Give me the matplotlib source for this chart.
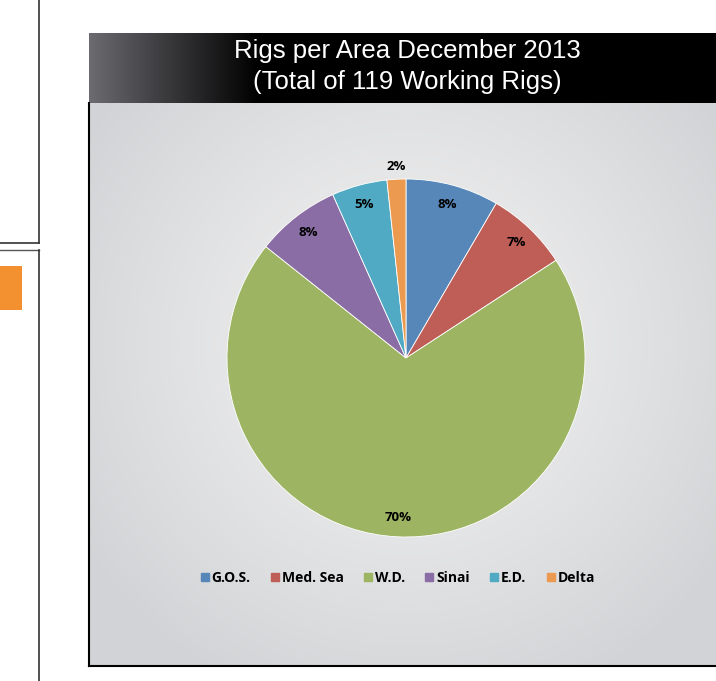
import numpy as np
import matplotlib
matplotlib.use("Agg")
import matplotlib.pyplot as plt
from matplotlib.lines import Line2D
from matplotlib.patches import Rectangle

# data (shares, labels rounded like the original)
areas = ["G.O.S.", "Med. Sea", "W.D.", "Sinai", "E.D.", "Delta"]
shares = [8.4, 7.4, 69.8, 7.6, 5.0, 1.7]
colors = ["#5687B8", "#BF5E57", "#9DB462", "#8A6DA4", "#51AAC4", "#EB9A50"]
title_lines = ["Rigs per Area December 2013", "(Total of 119 Working Rigs)"]

W, H = 716, 681
fig = plt.figure(figsize=(W / 100, H / 100), dpi=100)
fig.patch.set_facecolor("white")

def fx(px):
    return px / W

def fy(py):
    return 1 - py / H

# left page decorations
fig.add_artist(Line2D([fx(39), fx(39)], [fy(0), fy(243)], color="#333333", lw=1.2))
fig.add_artist(Line2D([0, fx(39)], [fy(243), fy(243)], color="#333333", lw=1.2))
fig.add_artist(Line2D([0, fx(39)], [fy(250), fy(250)], color="#555555", lw=1.0))
fig.add_artist(Line2D([fx(39), fx(39)], [fy(250), fy(681)], color="#333333", lw=1.2))
fig.add_artist(Rectangle((0, fy(310)), fx(22), fy(266) - fy(310), color="#F39130", lw=0))

# plot area background with radial gradient
bg = fig.add_axes([fx(89), fy(666), fx(W - 89), fy(103) - fy(666)])
yy, xx = np.mgrid[0:563, 0:627]
r = np.hypot((xx - 317) / 380.0, (yy - 240) / 380.0)
r = np.clip(r, 0, 1)
c0 = np.array([0.95, 0.95, 0.95])
c1 = np.array([0.825, 0.83, 0.84])
img = c0 + (c1 - c0) * r[..., None] ** 1.2
bg.imshow(img, aspect="auto", extent=[0, 1, 0, 1])
bg.set_xlim(0, 1)
bg.set_ylim(0, 1)
bg.axis("off")
fig.add_artist(Line2D([fx(89), fx(89)], [fy(103), fy(666)], color="black", lw=1.5))
fig.add_artist(Line2D([fx(89), 1], [fy(666), fy(666)], color="black", lw=1.5))

# title bar
tb = fig.add_axes([fx(89), fy(103), fx(W - 89), fy(33) - fy(103)])
g = np.linspace(0, 1, 627)
grad = np.clip(1 - g / 0.27, 0, 1)
bar = np.zeros((2, 627, 3))
bar[:] = (np.array([0.42, 0.42, 0.44]) * grad[:, None])[None, :, :]
tb.imshow(bar, aspect="auto", extent=[0, 1, 0, 1])
tb.set_xlim(0, 1)
tb.set_ylim(0, 1)
tb.axis("off")
tb.text((407 - 89) / 627, 0.52, "\n".join(title_lines), ha="center", va="center",
        color="white", fontsize=18.5, family="Liberation Sans", linespacing=1.4)

# pie
size = 179 * 2.5
ax = fig.add_axes([fx(406 - size / 2), fy(358 + size / 2), size / W, size / H])
wedges, texts, autotexts = ax.pie(
    shares, colors=colors, startangle=90, counterclock=False,
    autopct="%.0f%%", pctdistance=0.89,
    wedgeprops=dict(edgecolor="white", linewidth=0.6),
    textprops=dict(fontsize=9.5, fontweight="bold", color="black", family="Open Sans"))
# the small slice label sits just outside the pie
w = wedges[-1]
ang = np.deg2rad((w.theta1 + w.theta2) / 2)
autotexts[-1].set_position((1.07 * np.cos(ang), 1.07 * np.sin(ang)))
ax.set_xlim(-1.25, 1.25)
ax.set_ylim(-1.25, 1.25)
ax.set_aspect("equal")
ax.axis("off")

handles = [Line2D([], [], marker="s", linestyle="none", markersize=5.5,
                  markerfacecolor=c, markeredgecolor=c) for c in colors]
fig.legend(handles, areas, loc="center", bbox_to_anchor=(fx(398), fy(578)),
           ncol=6, frameon=False, handlelength=0.5, handletextpad=0.25,
           columnspacing=1.5, prop=dict(size=10, weight="bold", family="Open Sans"))

fig.savefig("out.png", dpi=100)
